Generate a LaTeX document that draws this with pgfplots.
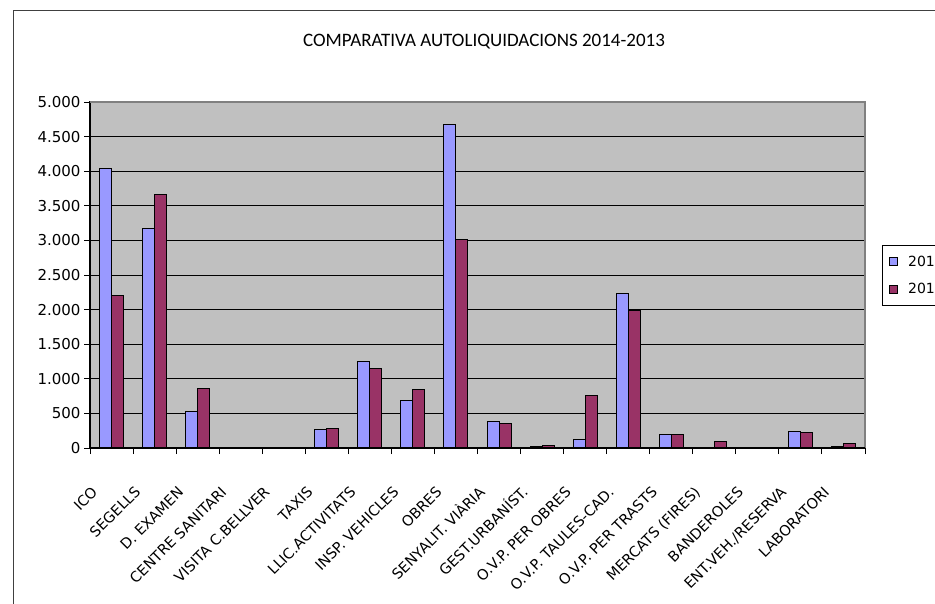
\documentclass[border=0pt]{standalone}
\usepackage{fontspec}
\setmainfont{DejaVu Sans}
\newfontfamily\titlefont{Carlito}
\usepackage{pgfplots}
\pgfplotsset{compat=1.18}

\definecolor{bar14}{HTML}{9999FF}
\definecolor{bar13}{HTML}{993366}
\definecolor{plotbg}{HTML}{C0C0C0}

\pgfplotsset{sqlegend/.style={legend image code/.code={%
  \draw[##1, line width=0.8bp] (3bp,-4bp) rectangle (11bp,4bp);
  \path[draw=none, fill=none] (0bp,0bp) -- (20bp,0bp);}}}

\begin{document}
\begin{tikzpicture}
\useasboundingbox (0bp,0bp) rectangle (935bp,604bp);
\clip (0bp,0bp) rectangle (935bp,604bp);
\fill[white] (0bp,0bp) rectangle (935bp,604bp);
% outer chart frame (runs off the right and bottom edges)
\draw[line width=1.4bp, black!75] (13.5bp,-20bp) -- (13.5bp,593.5bp) -- (960bp,593.5bp);
\node[font=\titlefont\fontsize{19bp}{21bp}\selectfont, anchor=base]
  at (484bp,557.5bp) {COMPARATIVA AUTOLIQUIDACIONS 2014-2013};

\begin{axis}[
    name=ax,
    at={(90bp,156bp)}, anchor=south west,
    scale only axis, width=775bp, height=346bp,
    xmin=-0.5, xmax=17.5,
    ymin=0, ymax=5000,
    ybar=0pt, bar width=12bp,
    axis background/.style={fill=plotbg},
    axis line style={black, line width=1.2bp},
    xtick={0,...,17},
    xticklabels={ICO, SEGELLS, D. EXAMEN, CENTRE SANITARI, VISITA C.BELLVER,
      TAXIS, LLIC.ACTIVITATS, INSP. VEHICLES, OBRES, SENYALIT. VIÀRIA,
      GEST.URBANÍST., O.V.P. PER OBRES, O.V.P. TAULES-CAD., O.V.P. PER TRASTS,
      MERCATS (FIRES), BANDEROLES, ENT.VEH./RESERVA, LABORATORI},
    minor xtick={-0.5,0.5,...,17.5},
    major x tick style={draw=none},
    tick pos=left,
    tick align=outside,
    major tick length=6bp, minor tick length=6bp,
    tick style={black, line width=1bp},
    ytick distance=500,
    scaled y ticks=false,
    /pgf/number format/1000 sep={.},
    /pgf/number format/assume math mode=true,
    ymajorgrids,
    major grid style={black, line width=1bp},
    yticklabel style={font=\fontsize{15bp}{17bp}\selectfont},
    xticklabel style={font=\fontsize{14.5bp}{17bp}\selectfont,
      text height=11bp, text depth=0bp,
      anchor=east, xshift=-17bp, yshift=-35bp, rotate=45, inner sep=0pt},
    every axis plot/.append style={draw=black, line width=1bp},
    legend style={at={(1.0216,0.586)}, anchor=north west,
      draw=black, line width=0.8bp, fill=white,
      font=\fontsize{14bp}{16bp}\selectfont,
      row sep=12bp, inner xsep=4bp, inner ysep=8bp},
    legend cell align=left,
]
% 2014
\addplot[fill=bar14, sqlegend] coordinates {(0,4036) (1,3165) (2,530) (5,265) (6,1248)
  (7,689) (8,4668) (9,376) (10,19) (11,130) (12,2230) (13,198) (16,241) (17,19)};
% 2013
\addplot[fill=bar13, sqlegend] coordinates {(0,2206) (1,3661) (2,867) (5,284) (6,1156)
  (7,843) (8,3010) (9,356) (10,43) (11,756) (12,1984) (13,198) (14,87) (16,222)
  (17,62)};
\legend{2014, 2013}
\end{axis}
% grey top and right border of the plot area, black base line
\draw[line width=1.6bp, black!50] (ax.north west) -- (ax.north east) -- (ax.south east);
\draw[line width=1.2bp, black] (ax.south west) -- (ax.south east);
\end{tikzpicture}
\end{document}
